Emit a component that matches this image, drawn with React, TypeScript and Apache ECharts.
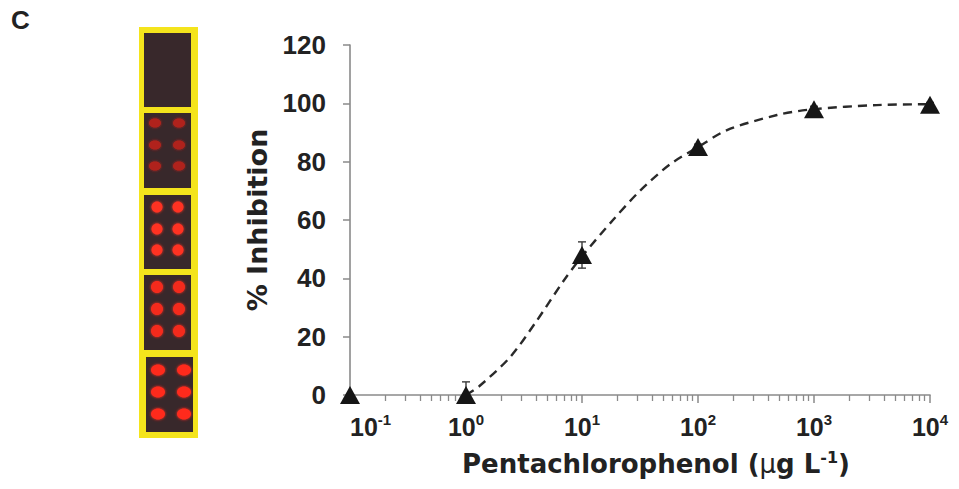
import React, { useEffect, useRef } from "react";
import * as echarts from "echarts";

// ---------------- data ----------------
const concentrations = [0.1, 1, 10, 100, 1000, 10000];
const inhibition = [0, 0, 48, 85, 98, 99.5];
const inhibitionSd = [0, 4.5, 4.5, 1, 1, 0.8];
const fitConcentrations = [1, 1.3, 2.4, 4, 6.9, 10, 18.5, 31.6, 57, 100, 178, 480, 1000, 3470, 10000];
const fitInhibition = [0, 3, 13, 25, 39, 47.5, 60, 70, 79, 85, 90.8, 96, 98, 99.4, 99.7];
const yMin = 0;
const yMax = 120;
const yStep = 20;
const xMin = 0.1;
const xMax = 10000;
const minorMultipliers = [2, 3, 4, 5, 6, 7, 8, 9];
const decadeStarts = [0.1, 1, 10, 100, 1000];
const xAxisTitle = "Pentachlorophenol";
const xAxisUnitMu = "μ";
const xAxisUnitRest = "g L";
const xAxisUnitExp = "-1";
const yAxisTitle = "% Inhibition";
const panelLabel = "C";

const minorTickValues: number[] = [];
decadeStarts.forEach((d) => minorMultipliers.forEach((m) => minorTickValues.push(+(d * m).toPrecision(6))));

const TICK_FONT = "'Liberation Sans', Arial, sans-serif";
const NAME_FONT = "'DejaVu Sans', sans-serif";
const AXIS_GREY = "#8a8a8a";
const TEXT = "#222222";

function buildInset(): any[] {
  const els: any[] = [];
  els.push({
    type: "rect",
    shape: { x: 139, y: 27, width: 59, height: 411 },
    style: { fill: "#f4e41c" },
    silent: true,
  });
  const panels = [
    { x: 144, y: 33, w: 47, h: 74, spots: null as any },
    { x: 144, y: 113, w: 47, h: 75, spots: { xs: [155, 179], ys: [123, 145, 166], rx: 6, ry: 4.5, fill: "#b0241c" } },
    { x: 144, y: 195, w: 47, h: 74, spots: { xs: [157, 178], ys: [207, 229, 250], rx: 5.5, ry: 5.5, fill: "#ff3222" } },
    { x: 144, y: 275, w: 47, h: 75, spots: { xs: [157, 179], ys: [287, 309, 331], rx: 6, ry: 6, fill: "#f42c1c" } },
    { x: 146, y: 357, w: 47, h: 75, spots: { xs: [158, 184], ys: [370, 392, 414], rx: 7, ry: 5.5, fill: "#ff2c1e" } },
  ];
  panels.forEach((p) => {
    els.push({
      type: "rect",
      shape: { x: p.x, y: p.y, width: p.w, height: p.h },
      style: { fill: "#38282b" },
      silent: true,
    });
    if (p.spots) {
      p.spots.ys.forEach((cy: number) =>
        p.spots.xs.forEach((cx: number) =>
          els.push({
            type: "ellipse",
            shape: { cx, cy, rx: p.spots.rx, ry: p.spots.ry },
            style: { fill: p.spots.fill, shadowBlur: 3, shadowColor: p.spots.fill },
            silent: true,
          })
        )
      );
    }
  });
  els.push({
    type: "text",
    x: 11,
    y: 7,
    style: {
      text: panelLabel,
      fontFamily: TICK_FONT,
      fontWeight: "bold",
      fontSize: 26,
      fill: TEXT,
      verticalAlign: "top",
    },
  });
  return els;
}

export default function App() {
  const ref = useRef<HTMLDivElement>(null);

  useEffect(() => {
    if (!ref.current) return;
    const chart = echarts.init(ref.current, undefined, { renderer: "svg" });

    const errorData = concentrations.map((c, i) => [
      c,
      Math.max(0, inhibition[i] - inhibitionSd[i]),
      inhibition[i] + inhibitionSd[i],
    ]);

    const option: any = {
      animation: false,
      backgroundColor: "#ffffff",
      grid: {
        left: 350,
        right: 29,
        top: 45,
        bottom: 94,
        containLabel: false,
        outerBoundsMode: "none",
      },
      graphic: buildInset(),
      xAxis: [
        {
          type: "log",
          logBase: 10,
          min: xMin,
          max: xMax,
          splitNumber: 5,
          name: `${xAxisTitle} ({m|${xAxisUnitMu}}${xAxisUnitRest}{s|${xAxisUnitExp}})`,
          nameLocation: "middle",
          nameGap: 54,
          nameTextStyle: {
            fontFamily: NAME_FONT,
            fontWeight: "bold",
            fontSize: 26,
            lineHeight: 30,
            color: TEXT,
            padding: [0, 0, 0, 32],
            rich: {
              m: { fontFamily: NAME_FONT, fontWeight: "normal", fontSize: 26, lineHeight: 30, color: TEXT },
              s: { fontFamily: NAME_FONT, fontWeight: "bold", fontSize: 16, lineHeight: 16, verticalAlign: "top", color: TEXT },
            },
          },
          axisLine: { show: true, lineStyle: { color: AXIS_GREY, width: 1.6 } },
          axisTick: { show: true, inside: false, length: 8, lineStyle: { color: AXIS_GREY, width: 1.5 } },
          splitLine: { show: false },
          minorTick: { show: false },
          axisLabel: {
            show: true,
            interval: 0,
            margin: 17,
            alignMinLabel: "left",
            formatter: (v: number) => `{b|10}{s|${Math.round(Math.log10(v))}}`,
            rich: {
              b: { fontFamily: TICK_FONT, fontWeight: "bold", fontSize: 25, lineHeight: 30, color: TEXT },
              s: { fontFamily: TICK_FONT, fontWeight: "bold", fontSize: 15, lineHeight: 15, verticalAlign: "top", color: TEXT },
            },
          },
        },
        {
          type: "log",
          logBase: 10,
          min: xMin,
          max: xMax,
          position: "bottom",
          axisLine: { show: false },
          axisLabel: { show: false },
          splitLine: { show: false },
          axisTick: {
            show: true,
            inside: false,
            length: 6,
            customValues: minorTickValues,
            lineStyle: { color: AXIS_GREY, width: 1.3 },
          },
        },
      ],
      yAxis: {
        type: "value",
        min: yMin,
        max: yMax,
        interval: yStep,
        name: yAxisTitle,
        nameLocation: "middle",
        nameRotate: 90,
        nameGap: 79,
        nameTextStyle: {
          fontFamily: NAME_FONT,
          fontWeight: "bold",
          fontSize: 27,
          color: TEXT,
        },
        axisLine: { show: true, lineStyle: { color: AXIS_GREY, width: 1.6 } },
        axisTick: { show: true, inside: false, length: 7, lineStyle: { color: AXIS_GREY, width: 1.5 } },
        splitLine: { show: false },
        axisLabel: {
          margin: 24,
          fontFamily: TICK_FONT,
          fontWeight: "bold",
          fontSize: 26,
          color: TEXT,
        },
      },
      series: [
        {
          type: "line",
          name: "fit",
          xAxisIndex: 0,
          data: fitConcentrations.map((c, i) => [c, fitInhibition[i]]),
          smooth: 0.3,
          showSymbol: false,
          symbol: "none",
          lineStyle: { color: "#2a2a2a", width: 2.4, type: [9, 6] },
          z: 1,
          silent: true,
        },
        {
          type: "custom",
          name: "sd",
          xAxisIndex: 0,
          data: errorData,
          encode: { x: 0, y: [1, 2] },
          clip: false,
          z: 2,
          renderItem: (_params: any, api: any) => {
            const x = api.value(0);
            const lo = api.coord([x, api.value(1)]);
            const hi = api.coord([x, api.value(2)]);
            const w = 4;
            const style = { stroke: "#3a3a3a", lineWidth: 1.4, fill: "none" };
            return {
              type: "group",
              children: [
                { type: "line", shape: { x1: hi[0], y1: hi[1], x2: lo[0], y2: lo[1] }, style },
                { type: "line", shape: { x1: hi[0] - w, y1: hi[1], x2: hi[0] + w, y2: hi[1] }, style },
                { type: "line", shape: { x1: lo[0] - w, y1: lo[1], x2: lo[0] + w, y2: lo[1] }, style },
              ],
            };
          },
        },
        {
          type: "scatter",
          name: "data",
          xAxisIndex: 0,
          data: concentrations.map((c, i) => [c, inhibition[i]]),
          symbol: "triangle",
          symbolSize: [20, 18],
          itemStyle: { color: "#161616", opacity: 1 },
          clip: false,
          z: 3,
        },
      ],
    };

    chart.setOption(option);
    return () => chart.dispose();
  }, []);

  return (
    <div
      ref={ref}
      style={{ position: "fixed", left: 0, top: 0, width: 959, height: 489, background: "#fff" }}
    />
  );
}
